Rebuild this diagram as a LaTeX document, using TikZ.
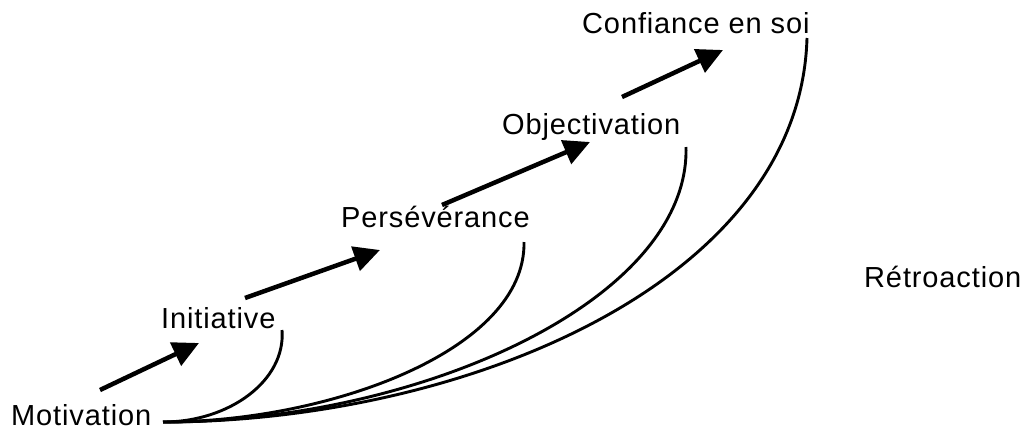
\documentclass[tikz,border=0pt]{standalone}
\usepackage{fontspec}
\setmainfont{Liberation Sans}[LetterSpace=3]
\usetikzlibrary{arrows.meta}
\begin{document}
\begin{tikzpicture}[x=1pt,y=-1pt,
  lbl/.style={anchor=base west, inner sep=0pt, font=\fontsize{29}{31}\selectfont},
  fb/.style={line width=2.9pt},
  bigarrow/.style={line width=4.5pt, -{Triangle[length=26pt,width=25pt]}}]
\useasboundingbox (0,0) rectangle (1028,432);
% labels
\node[lbl] (mot) at (11,425) {Motivation};
\node[lbl] (ini) at (161,328) {Initiative};
\node[lbl] (per) at (341,227) {Persévérance};
\node[lbl] (obj) at (502,134) {Objectivation};
\node[lbl] (con) at (582,33) {Confiance en soi};
\node[lbl] (ret) at (864,287) {Rétroaction};
% feedback curve ends
\coordinate (m) at (163,422);
\coordinate (e1) at (282,330);
\coordinate (e2) at (524,242);
\coordinate (e3) at (686,147);
\coordinate (e4) at (807,38);
% feedback curves
\draw[fb] (m) .. controls (230,422) and (286,380) .. (e1);
\draw[fb] (m) .. controls (330,422) and (526,350) .. (e2);
\draw[fb] (m) .. controls (420,422) and (690,300) .. (e3);
\draw[fb] (m) .. controls (460,422) and (800,285) .. (e4);
% progression arrows
\coordinate (a1s) at (100,390); \coordinate (a1t) at (199,343);
\coordinate (a2s) at (245,298); \coordinate (a2t) at (380,250);
\coordinate (a3s) at (442,205); \coordinate (a3t) at (590,142);
\coordinate (a4s) at (622,97);  \coordinate (a4t) at (723,50);
\draw[bigarrow] (a1s) -- (a1t);
\draw[bigarrow] (a2s) -- (a2t);
\draw[bigarrow] (a3s) -- (a3t);
\draw[bigarrow] (a4s) -- (a4t);
\end{tikzpicture}
\end{document}
